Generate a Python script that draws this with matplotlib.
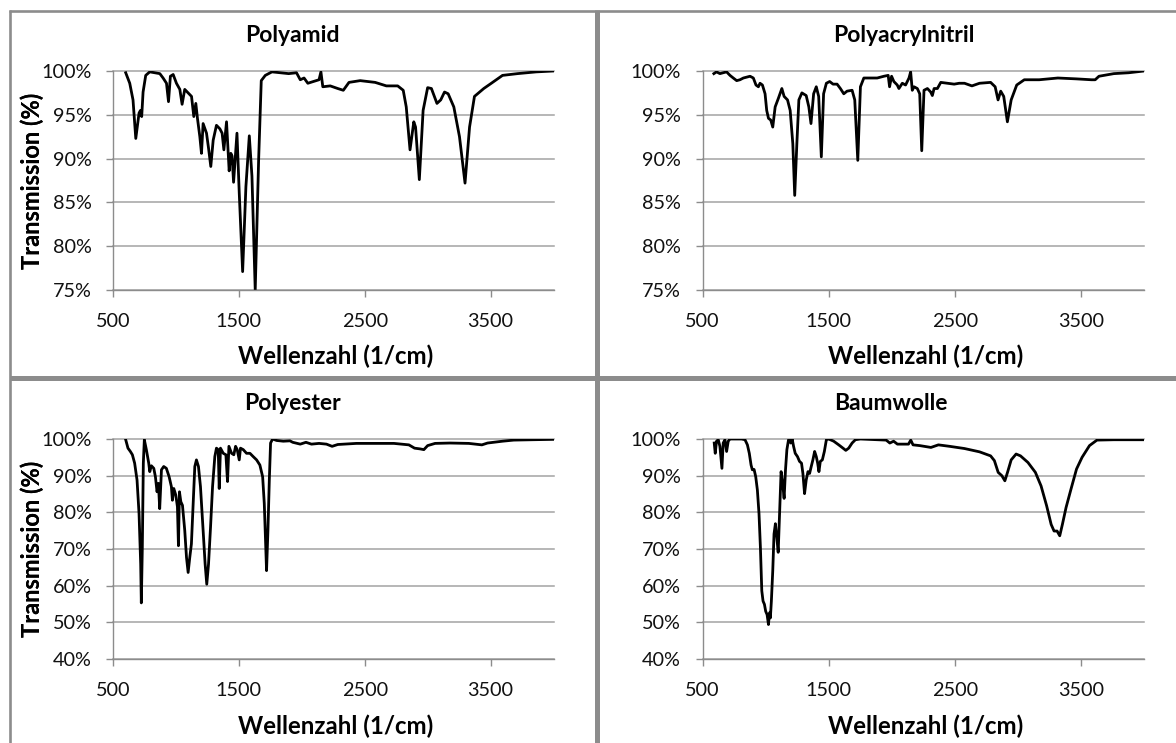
import matplotlib
matplotlib.use("Agg")
import matplotlib.pyplot as plt
from matplotlib.lines import Line2D

plt.rcParams['font.family'] = ['Lato', 'DejaVu Sans']

# ---------------- data ----------------
titles = ["Polyamid", "Polyacrylnitril", "Polyester", "Baumwolle"]
xlabel = "Wellenzahl (1/cm)"
ylabel = "Transmission (%)"
xticks = [500, 1500, 2500, 3500]
yticks_top = [75, 80, 85, 90, 95, 100]
yticks_bottom = [40, 50, 60, 70, 80, 90, 100]

pa_wn = [601, 633, 659, 681, 707, 718, 728, 739, 760, 792,
         872, 898, 925, 941, 956, 978, 1004, 1031, 1049, 1070,
         1097, 1124, 1142, 1158, 1171, 1190, 1203, 1216, 1243, 1259,
         1277, 1296, 1322, 1349, 1367, 1381, 1402, 1423, 1436, 1446,
         1458, 1485, 1503, 1530, 1556, 1583, 1604, 1630, 1657, 1678,
         1710, 1763, 1896, 1958, 1988, 2018, 2048, 2092, 2137, 2152,
         2167, 2226, 2286, 2330, 2375, 2464, 2583, 2672, 2762, 2806,
         2830, 2860, 2890, 2904, 2934, 2964, 3000, 3030, 3074, 3104,
         3134, 3163, 3208, 3253, 3297, 3333, 3372, 3446, 3506, 3595,
         3714, 3863, 4000]
pa_t = [99.8, 98.6, 96.7, 92.3, 95.2, 95.5, 94.8, 97.6, 99.5, 99.9,
        99.7, 99.2, 98.6, 96.5, 99.4, 99.6, 98.6, 97.9, 96.2, 97.9,
        97.5, 97.1, 94.8, 96.3, 94.6, 92.5, 90.6, 94.0, 92.9, 91.2,
        89.1, 92.1, 93.8, 93.4, 92.9, 91.0, 94.2, 88.6, 90.6, 90.3,
        87.3, 92.9, 86.1, 77.1, 86.8, 92.6, 88.0, 75.0, 89.8, 98.9,
        99.5, 99.9, 99.7, 99.8, 99.0, 99.2, 98.6, 98.8, 99.0, 99.9,
        98.2, 98.3, 98.0, 97.8, 98.7, 98.9, 98.7, 98.3, 98.3, 97.8,
        95.9, 91.0, 94.2, 93.6, 87.6, 95.5, 98.1, 98.0, 96.3, 96.7,
        97.6, 97.4, 95.9, 92.5, 87.2, 93.6, 97.1, 98.0, 98.6, 99.5,
        99.7, 99.9, 100]

pan_wn = [590, 611, 638, 664, 691, 718, 744, 771, 797, 824,
          877, 903, 924, 943, 956, 975, 996, 1009, 1023, 1041,
          1057, 1076, 1102, 1129, 1147, 1174, 1195, 1216, 1231, 1248,
          1264, 1288, 1322, 1343, 1360, 1381, 1402, 1421, 1442, 1460,
          1482, 1508, 1535, 1567, 1593, 1620, 1646, 1686, 1707, 1731,
          1752, 1779, 1832, 1885, 1938, 1972, 1983, 1999, 2017, 2044,
          2057, 2084, 2110, 2137, 2150, 2163, 2177, 2203, 2222, 2238,
          2256, 2283, 2309, 2322, 2336, 2362, 2389, 2442, 2495, 2535,
          2577, 2636, 2696, 2784, 2820, 2843, 2864, 2888, 2917, 2947,
          2991, 3051, 3169, 3317, 3465, 3583, 3613, 3643, 3761, 3879,
          4000]
pan_t = [99.7, 99.9, 99.7, 99.8, 99.9, 99.5, 99.2, 98.9, 99.0, 99.2,
         99.4, 99.2, 98.4, 98.2, 98.6, 98.4, 97.4, 95.5, 94.6, 94.4,
         93.6, 95.9, 96.9, 98.0, 97.1, 96.7, 95.5, 91.7, 85.8, 91.7,
         96.7, 97.5, 97.2, 95.9, 94.0, 97.4, 98.2, 97.1, 90.2, 97.4,
         98.6, 98.8, 98.5, 98.5, 98.0, 97.4, 97.7, 97.8, 96.7, 89.8,
         98.2, 99.2, 99.2, 99.2, 99.4, 99.5, 98.2, 99.4, 98.8, 98.4,
         98.0, 98.6, 98.4, 99.2, 99.9, 97.8, 98.2, 98.0, 97.4, 90.9,
         97.8, 98.0, 97.6, 97.2, 98.0, 98.0, 98.7, 98.6, 98.5, 98.6,
         98.6, 98.3, 98.6, 98.7, 98.2, 96.7, 97.7, 97.1, 94.2, 96.7,
         98.4, 99.0, 99.0, 99.2, 99.1, 99.0, 99.0, 99.4, 99.7, 99.8,
         100]

pes_wn = [601, 619, 638, 654, 672, 691, 707, 720, 725, 733,
          741, 749, 765, 784, 792, 805, 824, 837, 850, 861,
          871, 885, 903, 924, 946, 964, 972, 983, 999, 1012,
          1020, 1028, 1039, 1052, 1070, 1084, 1097, 1110, 1123, 1137,
          1150, 1163, 1179, 1195, 1216, 1232, 1245, 1259, 1275, 1291,
          1309, 1322, 1336, 1344, 1354, 1376, 1397, 1410, 1421, 1442,
          1460, 1474, 1487, 1503, 1513, 1535, 1561, 1588, 1614, 1641,
          1667, 1689, 1702, 1712, 1720, 1731, 1742, 1752, 1768, 1800,
          1853, 1906, 1928, 1988, 2033, 2077, 2137, 2196, 2241, 2286,
          2434, 2583, 2732, 2851, 2896, 2940, 2970, 3000, 3059, 3178,
          3327, 3431, 3476, 3595, 3684, 3833, 4000]
pes_t = [99.8, 97.5, 96.6, 95.7, 93.4, 88.8, 79.6, 65.9, 55.3, 70.5,
         93.4, 99.8, 97.1, 93.4, 91.1, 92.7, 92.0, 89.7, 85.6, 87.9,
         81.0, 91.6, 92.5, 92.0, 89.7, 87.0, 83.3, 86.5, 84.7, 81.5,
         70.9, 85.6, 82.9, 81.9, 75.1, 67.7, 63.6, 67.7, 71.4, 82.4,
         92.5, 94.3, 92.5, 87.0, 75.1, 65.9, 60.4, 65.9, 76.0, 87.0,
         95.2, 97.5, 97.1, 86.5, 97.5, 96.1, 95.7, 88.4, 98.0, 96.1,
         95.7, 98.0, 97.1, 94.3, 97.5, 97.1, 96.1, 96.1, 95.2, 94.3,
         92.9, 89.7, 82.4, 72.3, 64.1, 75.1, 88.8, 98.9, 100, 99.6,
         99.4, 99.5, 99.1, 98.6, 99.1, 98.6, 98.8, 98.6, 98.0, 98.5,
         98.8, 98.8, 98.8, 98.4, 97.5, 97.3, 97.1, 98.2, 98.8, 98.9,
         98.8, 98.4, 98.9, 99.4, 99.7, 99.8, 99.9]

cot_wn = [593, 601, 611, 625, 638, 654, 664, 678, 691, 704,
          718, 757, 810, 837, 856, 871, 885, 895, 909, 922,
          935, 948, 959, 970, 980, 991, 1001, 1012, 1023, 1031,
          1038, 1046, 1057, 1067, 1078, 1089, 1100, 1110, 1123, 1134,
          1147, 1158, 1169, 1182, 1190, 1200, 1211, 1222, 1235, 1253,
          1269, 1285, 1296, 1309, 1322, 1336, 1349, 1362, 1375, 1389,
          1402, 1413, 1423, 1434, 1450, 1466, 1482, 1500, 1540, 1580,
          1614, 1636, 1659, 1686, 1712, 1752, 1956, 1985, 2015, 2045,
          2133, 2151, 2169, 2222, 2311, 2370, 2459, 2577, 2696, 2784,
          2814, 2844, 2873, 2897, 2918, 2947, 2986, 3021, 3080, 3139,
          3184, 3228, 3264, 3287, 3311, 3332, 3353, 3382, 3421, 3465,
          3509, 3568, 3627, 3761, 4000]
cot_t = [98.9, 96.1, 99.4, 99.8, 98.0, 92.0, 98.9, 99.8, 96.6, 99.4,
         100, 100, 100, 99.8, 98.4, 96.1, 92.9, 91.6, 91.7, 89.7,
         86.1, 79.6, 70.5, 58.6, 55.8, 54.9, 53.0, 52.1, 49.4, 52.6,
         51.2, 55.8, 64.1, 74.1, 76.9, 73.2, 69.1, 78.7, 91.1, 88.4,
         83.8, 91.6, 97.1, 99.8, 100, 98.9, 100, 98.0, 96.1, 95.2,
         93.9, 93.4, 90.6, 85.1, 88.8, 91.1, 90.6, 92.5, 94.3, 96.6,
         95.2, 93.4, 91.1, 93.9, 94.3, 96.6, 99.8, 100, 99.4, 98.4,
         97.5, 96.9, 97.5, 98.9, 99.8, 100, 99.7, 98.9, 99.4, 98.6,
         98.6, 99.7, 98.4, 98.2, 97.7, 98.4, 98.0, 97.4, 96.5, 95.4,
         94.1, 90.9, 90.0, 88.6, 90.9, 94.3, 95.9, 95.4, 93.6, 90.9,
         87.2, 81.8, 76.7, 74.9, 74.9, 73.6, 76.7, 81.3, 86.3, 91.8,
         95.0, 98.2, 99.7, 99.8, 99.8]

# ---------------- layout ----------------
W, H = 1176, 743
fig = plt.figure(figsize=(W / 100, H / 100), dpi=100)
fig.patch.set_facecolor("white")


def fx(x):
    return x / W


def fy(y):
    return 1 - y / H


GRAY = "#8c8c8c"
GRID = "#a3a3a3"

panels = [
    # (wn, t, title, yticks, left, right, top, bottom, title_x, title_base, xlab_base)
    (pa_wn, pa_t, titles[0], yticks_top, 113, 553.5, 71, 290, 292, 41.5, 364),
    (pan_wn, pan_t, titles[1], yticks_top, 702.5, 1144, 71, 290, 904, 41.5, 364),
    (pes_wn, pes_t, titles[2], yticks_bottom, 113, 553.5, 439, 659, 293, 410, 734.5),
    (cot_wn, cot_t, titles[3], yticks_bottom, 702.5, 1144, 439, 659, 891, 410, 734.5),
]

for wn, t, title, yt, l, r, tp, b, tx, tb, xb in panels:
    ax = fig.add_axes([fx(l), fy(b), fx(r) - fx(l), (b - tp) / H])
    ax.plot(wn, t, color="black", lw=2.0, solid_joinstyle="round")
    ax.set_xlim(500, 4000)
    ax.set_ylim(yt[0], yt[-1])
    ax.set_xticks(xticks)
    ax.set_xticklabels([str(v) for v in xticks])
    ax.set_yticks(yt)
    ax.set_yticklabels([f"{v}%" for v in yt])
    ax.tick_params(axis="both", direction="out", length=5, width=1.0,
                   color=GRAY, labelsize=14.3, labelcolor="#111111")
    ax.tick_params(axis="x", pad=11.5)
    ax.tick_params(axis="y", pad=10.5)
    for s in ["top", "right"]:
        ax.spines[s].set_visible(False)
    for s in ["left", "bottom"]:
        ax.spines[s].set_color(GRAY)
        ax.spines[s].set_linewidth(1.0)
    ax.yaxis.grid(True, color=GRID, lw=1.1)
    ax.set_axisbelow(True)
    for gl in ax.get_ygridlines():
        gl.set_clip_on(False)

    cx = (l + r) / 2
    cy = (tp + b) / 2
    fig.text(fx(tx), fy(tb), title, ha="center", va="baseline",
             fontsize=16.5, fontweight="bold")
    fig.text(fx(cx + 2), fy(xb), xlabel, ha="center", va="baseline",
             fontsize=17.3, fontweight="bold")
    fig.text(fx(32), fy(cy), ylabel, ha="center", va="center",
             rotation=90, fontsize=17, fontweight="bold")

# panel borders / separators
border_kw = dict(color=GRAY, solid_capstyle="butt")
fig.add_artist(Line2D([fx(9), fx(W)], [fy(11), fy(11)], lw=1.9, **border_kw))
fig.add_artist(Line2D([fx(10), fx(10)], [fy(10), fy(H)], lw=1.9, **border_kw))
fig.add_artist(Line2D([fx(597), fx(597)], [fy(10), fy(H)], lw=3.6, **border_kw))
fig.add_artist(Line2D([fx(10), fx(W)], [fy(377.5), fy(377.5)], lw=3.6, **border_kw))

fig.savefig("out.png", dpi=100)
